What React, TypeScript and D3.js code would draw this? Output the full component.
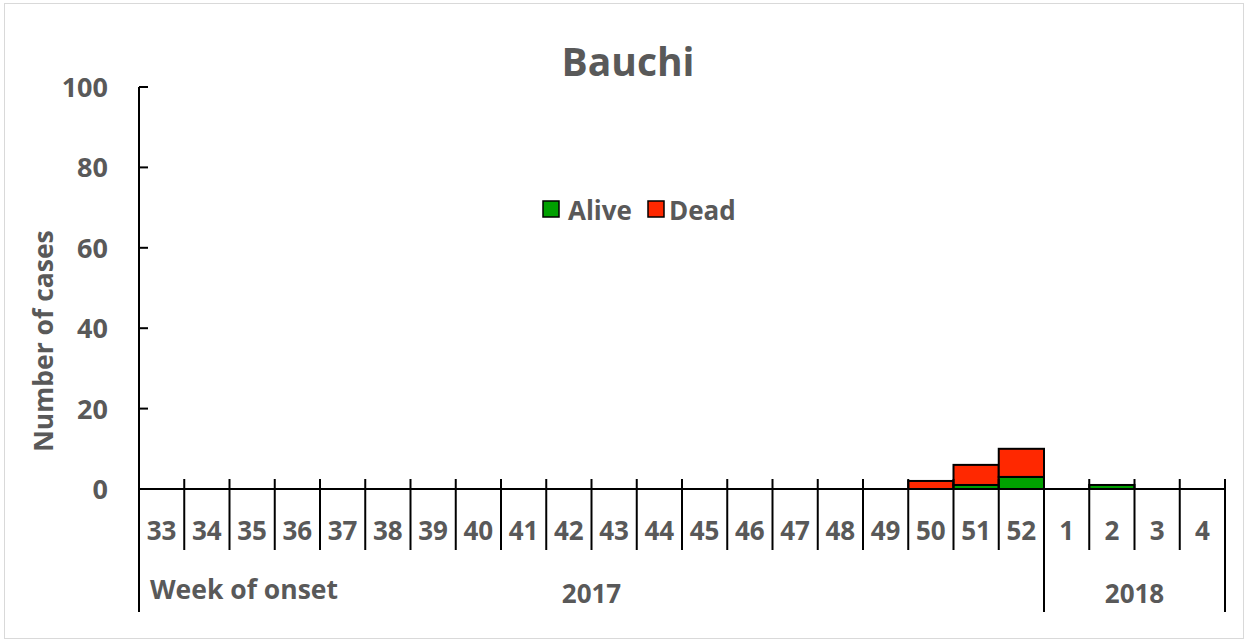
import React from "react";
import * as d3 from "d3";

const weeks = ["33","34","35","36","37","38","39","40","41","42","43","44","45","46","47","48","49","50","51","52","1","2","3","4"];
const alive = [0,0,0,0,0,0,0,0,0,0,0,0,0,0,0,0,0,0,1,3,0,1,0,0];
const dead =  [0,0,0,0,0,0,0,0,0,0,0,0,0,0,0,0,0,2,5,7,0,0,0,0];
const years = [{ label: "2017", from: 0, to: 20 }, { label: "2018", from: 20, to: 24 }];
const yTicks = [0, 20, 40, 60, 80, 100];

const W = 1248, H = 642;
const FONT = "'Open Sans', 'Liberation Sans', sans-serif";
const GRAY = "#595959";
const GREEN = "#00A000";
const RED = "#FF2800";

export default function App() {
  const x0 = 139, x1 = 1225;
  const yTop = 87, yBot = 489;
  const x = d3.scaleBand<number>().domain(d3.range(weeks.length)).range([x0, x1]).padding(0);
  const y = d3.scaleLinear().domain([0, 100]).range([yBot, yTop]);
  const bw = x.bandwidth();

  return (
    <svg width={W} height={H} style={{ position: "absolute", left: 0, top: 0 }} fontFamily={FONT}>
      <rect x={0} y={0} width={W} height={H} fill="#fff" />
      <rect x={4.5} y={3.5} width={W - 9} height={H - 7} fill="none" stroke="#d9d9d9" strokeWidth={1} />
      <text x={628} y={76} textAnchor="middle" fontSize={39} fontWeight="bold" fill={GRAY}>Bauchi</text>

      {/* bars */}
      {weeks.map((w, i) => {
        const a = alive[i], d = dead[i];
        const els = [];
        if (a > 0) els.push(<rect key={"a" + i} x={x(i)} y={y(a)} width={bw} height={y(0) - y(a)} fill={GREEN} stroke="#000" strokeWidth={2} />);
        if (d > 0) els.push(<rect key={"d" + i} x={x(i)} y={y(a + d)} width={bw} height={y(a) - y(a + d)} fill={RED} stroke="#000" strokeWidth={2} />);
        return els;
      })}

      {/* y axis */}
      <line x1={x0} x2={x0} y1={yTop} y2={yBot} stroke="#000" strokeWidth={2} />
      {yTicks.map(t => (
        <g key={t}>
          <line x1={x0} x2={x0 + 9} y1={y(t)} y2={y(t)} stroke="#000" strokeWidth={2} />
          <text x={108} y={y(t) + 10} textAnchor="end" fontSize={27} fontWeight="bold" fill={GRAY}>{t}</text>
        </g>
      ))}
      <text transform={`translate(53,341) rotate(-90)`} textAnchor="middle" fontSize={26.5} fontWeight="bold" fill={GRAY}>Number of cases</text>

      {/* x axis */}
      <line x1={x0} x2={x1} y1={yBot} y2={yBot} stroke="#000" strokeWidth={2} />
      {d3.range(weeks.length + 1).map(i => {
        const px = i < weeks.length ? (x(i) as number) : x1;
        const isYear = years.some(yy => yy.from === i || yy.to === i);
        return <line key={"t" + i} x1={px} x2={px} y1={479} y2={isYear ? 612 : 550} stroke="#000" strokeWidth={2} />;
      })}
      {weeks.map((w, i) => (
        <text key={"w" + i} x={(x(i) as number) + bw / 2} y={540} textAnchor="middle" fontSize={26} fontWeight="bold" fill={GRAY}>{w}</text>
      ))}
      {years.map(yy => (
        <text key={yy.label} x={((x(yy.from) as number) + (yy.to < weeks.length ? (x(yy.to) as number) : x1)) / 2} y={603} textAnchor="middle" fontSize={26} fontWeight="bold" fill={GRAY}>{yy.label}</text>
      ))}
      <text x={150} y={599} fontSize={26.5} fontWeight="bold" fill={GRAY}>Week of onset</text>

      {/* legend */}
      <rect x={543} y={201} width={16} height={16} fill={GREEN} stroke="#000" strokeWidth={1.5} />
      <text x={568} y={220} fontSize={26} fontWeight="bold" fill={GRAY}>Alive</text>
      <rect x={648} y={201} width={16} height={16} fill={RED} stroke="#000" strokeWidth={1.5} />
      <text x={669} y={220} fontSize={26} fontWeight="bold" fill={GRAY}>Dead</text>
    </svg>
  );
}
